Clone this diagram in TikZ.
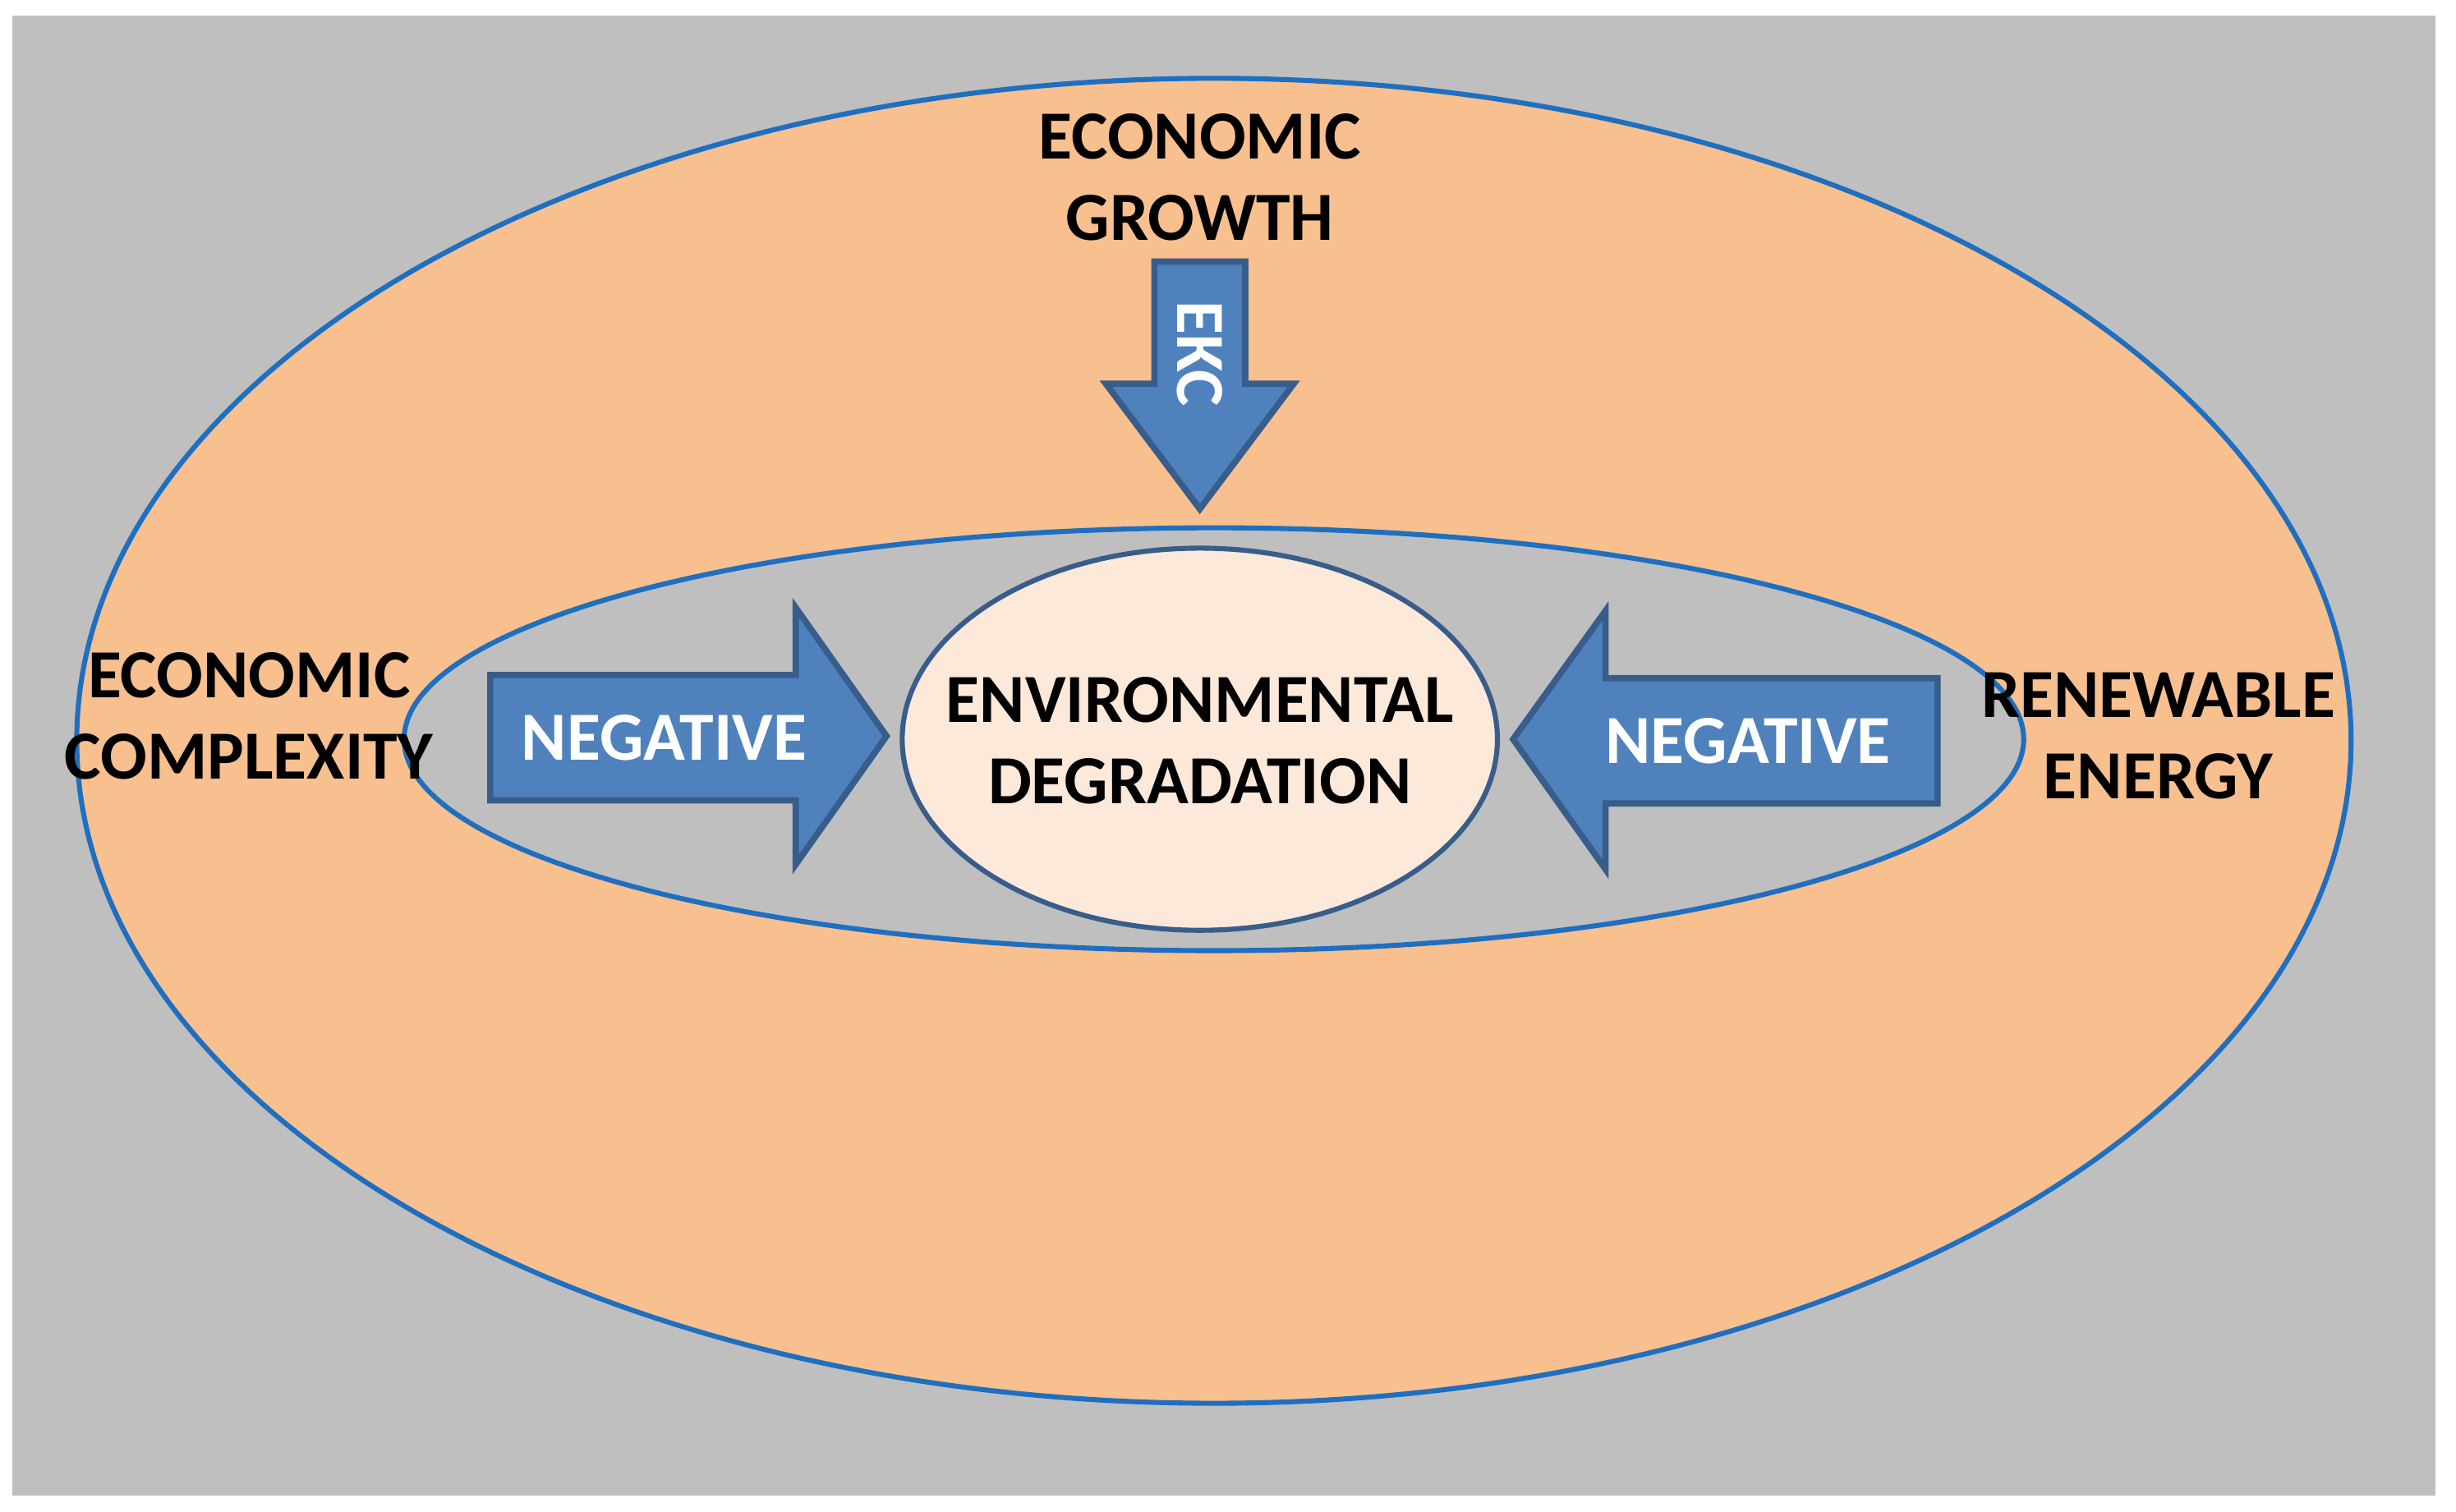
\documentclass[tikz,border=0pt]{standalone}
\usepackage{fontspec}
\setmainfont{Carlito}
\definecolor{bg}{HTML}{BFBFBF}
\definecolor{peach}{HTML}{F8BF8F}
\definecolor{ring}{HTML}{1F6FC0}
\definecolor{core}{HTML}{FCE9DA}
\definecolor{arr}{HTML}{4F81BD}
\definecolor{arrb}{HTML}{385D8A}
\begin{document}
\begin{tikzpicture}[x=0.5pt,y=-0.5pt,
 lbl/.style={font=\fontsize{22}{26}\selectfont\bfseries,align=center,text=black},
 wlbl/.style={font=\fontsize{22}{26}\selectfont\bfseries,text=white},
 ar/.style={fill=arr,draw=arrb,line width=2pt,line join=miter}]
\useasboundingbox (0,0) rectangle (1568,965);
\fill[white] (0,0) rectangle (1568,965);
\fill[bg] (8,10) rectangle (1555,955);
\draw[fill=peach,draw=ring,line width=1.6pt] (775,473) ellipse [x radius=726,y radius=423];
\draw[fill=bg,draw=ring,line width=1.6pt] (775,472) ellipse [x radius=517,y radius=135];
\draw[fill=core,draw=arrb,line width=1.6pt] (766,472) ellipse [x radius=190,y radius=122];
\node[lbl] (ed) at (766,473) {ENVIRONMENTAL\\DEGRADATION};
\draw[ar] (737,167)--(795,167)--(795,245)--(826,245)--(766,325)--(706,245)--(737,245)--cycle;
\draw[ar] (313,431)--(508,431)--(508,388)--(566,470)--(508,552)--(508,511)--(313,511)--cycle;
\draw[ar] (1237,433)--(1025,433)--(1025,390)--(966,472)--(1025,555)--(1025,513)--(1237,513)--cycle;
\node[wlbl,rotate=-90] (ekc) at (766,226) {EKC};
\node[wlbl] (n1) at (424,471) {NEGATIVE};
\node[wlbl] (n2) at (1116,473) {NEGATIVE};
\node[lbl] (eg) at (766,113) {ECONOMIC\\GROWTH};
\node[lbl] (ec) at (159,457) {ECONOMIC\\COMPLEXITY};
\node[lbl] (re) at (1378,470) {RENEWABLE\\ENERGY};
\end{tikzpicture}
\end{document}
